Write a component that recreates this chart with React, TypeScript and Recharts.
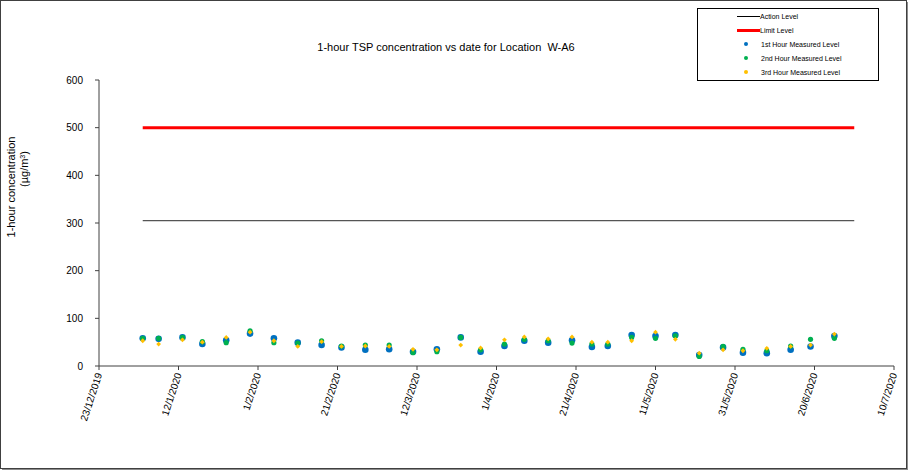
import React from 'react';
import { ComposedChart, Line, Scatter, XAxis, YAxis } from 'recharts';

// sampling dates (d/m/yyyy)
const dates = [
  '3/1/2020', '7/1/2020', '13/1/2020', '18/1/2020', '24/1/2020', '30/1/2020', '5/2/2020', '11/2/2020',
  '17/2/2020', '22/2/2020', '28/2/2020', '5/3/2020', '11/3/2020', '17/3/2020', '23/3/2020', '28/3/2020',
  '3/4/2020', '8/4/2020', '14/4/2020', '20/4/2020', '25/4/2020', '29/4/2020', '5/5/2020', '11/5/2020',
  '16/5/2020', '22/5/2020', '28/5/2020', '2/6/2020', '8/6/2020', '14/6/2020', '19/6/2020', '25/6/2020',
];
const firstHour = [58, 57, 60, 46, 54, 68, 58, 49, 44, 39, 34, 35, 30, 35, 60, 30, 42, 53, 49, 54, 40, 42, 65, 63, 65, 23, 39, 28, 27, 34, 41, 63];
const secondHour = [58, 58, 60, 51, 49, 74, 49, 48, 53, 42, 44, 44, 28, 30, 60, 34, 46, 56, 53, 48, 46, 46, 60, 58, 63, 20, 41, 35, 32, 42, 56, 58];
const thirdHour = [53, 46, 55, 50, 60, 71, 53, 41, 51, 41, 42, 41, 35, 34, 44, 38, 55, 61, 57, 61, 50, 50, 53, 71, 56, 27, 34, 32, 37, 41, 44, 67];

const levelDates = ['3/1/2020', '30/6/2020'];
const actionLevel = 305;
const limitLevel = 500;

const axisStart = '23/12/2019';
const xTickDays = [0, 20, 40, 60, 80, 100, 120, 140, 160, 180, 200];
const yTicks = [0, 100, 200, 300, 400, 500, 600];

const DAY = 86400000;
const toUtc = (s: string) => {
  const [d, m, y] = s.split('/').map(Number);
  return Date.UTC(y, m - 1, d);
};
const startUtc = toUtc(axisStart);
const toDay = (s: string) => Math.round((toUtc(s) - startUtc) / DAY);
const fmtDay = (n: number) => {
  const dt = new Date(startUtc + n * DAY);
  return `${dt.getUTCDate()}/${dt.getUTCMonth() + 1}/${dt.getUTCFullYear()}`;
};

const rows = dates.map((d, i) => ({
  day: toDay(d),
  first: firstHour[i],
  second: secondHour[i],
  third: thirdHour[i],
}));
const levels = levelDates.map((d) => ({ day: toDay(d), action: actionLevel, limit: limitLevel }));

const BLUE = '#0070C0';
const GREEN = '#00B050';
const YELLOW = '#FFC000';
const FONT = '"Liberation Sans", Arial, sans-serif';

const Dot = (r: number, color: string) => (p: any) => <circle cx={p.cx} cy={p.cy} r={r} fill={color} />;
const Diamond = (r: number, color: string) => (p: any) => (
  <polygon
    points={`${p.cx},${p.cy - r} ${p.cx + r},${p.cy} ${p.cx},${p.cy + r} ${p.cx - r},${p.cy}`}
    fill={color}
  />
);

const XTick = (props: any) => {
  const { x, y, payload } = props;
  return (
    <text
      x={x}
      y={y}
      transform={`rotate(-72, ${x}, ${y})`}
      textAnchor="end"
      dominantBaseline="central"
      fontSize={10}
      fontFamily={FONT}
      fill="#000"
    >
      {fmtDay(payload.value)}
    </text>
  );
};

const legendItems = [
  { label: 'Action Level', kind: 'line', color: '#000', w: 1 },
  { label: 'Limit Level', kind: 'line', color: '#ff0000', w: 3 },
  { label: '1st Hour Measured Level', kind: 'dot', color: BLUE },
  { label: '2nd Hour Measured Level', kind: 'dot', color: GREEN },
  { label: '3rd Hour Measured Level', kind: 'dot', color: YELLOW },
];

export default function App() {
  return (
    <div
      style={{
        position: 'absolute',
        left: 0,
        top: 0,
        width: 905,
        height: 467,
        border: '1px solid #404040',
        boxShadow: '2px 2px 0 #8c8c8c',
        background: '#fff',
        fontFamily: FONT,
      }}
    >
      <div style={{ position: 'absolute', left: 0, top: -1 }}>
        <ComposedChart width={908} height={470} margin={{ top: 80, right: 15, bottom: 0, left: 0 }}>
          <XAxis
            dataKey="day"
            type="number"
            domain={[0, 200]}
            ticks={xTickDays}
            height={104}
            stroke="#404040"
            tickSize={4}
            tickMargin={3}
            tick={<XTick />}
            interval={0}
            allowDataOverflow
          />
          <YAxis
            type="number"
            domain={[0, 600]}
            ticks={yTicks}
            width={98}
            stroke="#404040"
            tickSize={4}
            tickMargin={12}
            tick={{ fontSize: 10, fill: '#000', fontFamily: FONT }}
            interval={0}
          />
          <Line data={levels} dataKey="limit" stroke="#ff0000" strokeWidth={3} dot={false} isAnimationActive={false} />
          <Line data={levels} dataKey="action" stroke="#555" strokeWidth={1.3} dot={false} isAnimationActive={false} />
          <Scatter data={rows} dataKey="first" shape={Dot(3.3, BLUE)} isAnimationActive={false} />
          <Scatter data={rows} dataKey="second" shape={Dot(2.6, GREEN)} isAnimationActive={false} />
          <Scatter data={rows} dataKey="third" shape={Diamond(2.4, YELLOW)} isAnimationActive={false} />
        </ComposedChart>
      </div>

      <div
        style={{
          position: 'absolute',
          left: 0,
          top: 40,
          width: 890,
          textAlign: 'center',
          fontSize: 11,
        }}
      >
        1-hour TSP concentration vs date for Location&nbsp; W-A6
      </div>

      <svg style={{ position: 'absolute', left: 0, top: 0 }} width={60} height={400}>
        <text x={14} y={186} transform="rotate(-90, 14, 186)" textAnchor="middle" fontSize={11} fontFamily={FONT}>
          1-hour concentration
        </text>
        <text x={27} y={168} transform="rotate(-90, 27, 168)" textAnchor="middle" fontSize={11} fontFamily={FONT}>
          (µg/m<tspan dy={-3} fontSize={7}>3</tspan>
          <tspan dy={3}>)</tspan>
        </text>
      </svg>

      <div
        style={{
          position: 'absolute',
          left: 696,
          top: 7,
          width: 180,
          height: 71,
          border: '1px solid #000',
          background: '#fff',
        }}
      >
        {legendItems.map((it, i) => (
          <div
            key={it.label}
            style={{
              position: 'absolute',
              left: 0,
              top: 1 + i * 14,
              height: 12,
              width: 180,
              display: 'flex',
              alignItems: 'center',
              fontSize: 7,
            }}
          >
            <div style={{ width: 62, display: 'flex', justifyContent: 'flex-end', alignItems: 'center' }}>
              {it.kind === 'line' ? (
                <div style={{ width: 23, height: it.w, background: it.color }} />
              ) : (
                <div
                  style={{ width: 4, height: 4, borderRadius: 2, background: it.color, marginRight: 12 }}
                />
              )}
            </div>
            <span style={{ marginLeft: it.kind === 'line' ? 0 : 1 }}>{it.label}</span>
          </div>
        ))}
      </div>
    </div>
  );
}
